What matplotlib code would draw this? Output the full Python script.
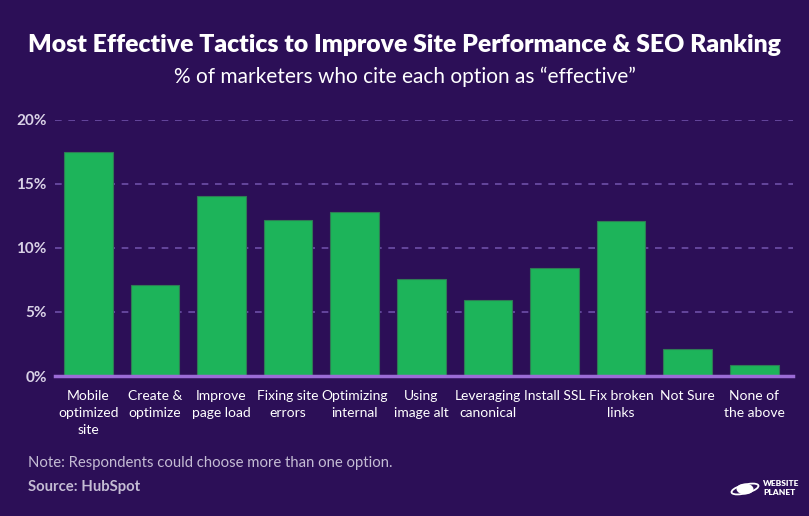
import matplotlib.pyplot as plt
from matplotlib.patches import Circle, Ellipse

plt.rcParams['font.family'] = ['Lato', 'DejaVu Sans']

categories = ['Mobile\noptimized\nsite', 'Create &\noptimize', 'Improve\npage load',
              'Fixing site\nerrors', 'Optimizing\ninternal', 'Using\nimage alt',
              'Leveraging\ncanonical', 'Install SSL', 'Fix broken\nlinks', 'Not Sure',
              'None of\nthe above']
values = [17.5, 7.1, 14.0, 12.2, 12.8, 7.6, 5.9, 8.4, 12.1, 2.1, 0.85]
yticks = [0, 5, 10, 15, 20]

bg = '#2c0f57'
green = '#1db45a'

fig = plt.figure(figsize=(8.09, 5.16), dpi=100)
fig.patch.set_facecolor(bg)

ax = fig.add_axes([55/809, 1-376/516, (793-55)/809, (376-119.5)/516])
ax.set_facecolor(bg)

x = list(range(len(categories)))
ax.bar(x, values, width=0.73, color=green, edgecolor='#2f7a55', linewidth=0.8, zorder=3)

ax.set_xlim(-0.5, 10.58)
ax.set_ylim(0, 20)
ax.set_yticks(yticks)
ax.set_yticklabels([f'{t}%' for t in yticks], fontsize=11, fontweight='bold', color='#d9d2e6')
ax.yaxis.grid(True, linestyle=(0, (4, 4)), color='#6d4fa8', linewidth=1.2, zorder=0)
ax.set_axisbelow(True)
ax.tick_params(axis='y', length=0, pad=6)
ax.tick_params(axis='x', length=0, pad=10)
ax.set_xticks(x)
ax.set_xticklabels(categories, fontsize=10, color='white', linespacing=1.5, va='top')

for s in ['top', 'right', 'left']:
    ax.spines[s].set_visible(False)
ax.spines['bottom'].set_color('#9b6cd6')
ax.spines['bottom'].set_linewidth(2.5)
ax.spines['bottom'].set_zorder(4)

fig.text(0.5, 1-45/516, 'Most Effective Tactics to Improve Site Performance & SEO Ranking',
         ha='center', va='center', fontsize=17.8, fontweight='heavy', color='white')
fig.text(0.5, 1-77/516, '% of marketers who cite each option as \u201ceffective\u201d',
         ha='center', va='center', fontsize=15, color='white')

fig.text(28/809, 1-463/516, 'Note: Respondents could choose more than one option.',
         ha='left', va='center', fontsize=10.7, color='#c4bcd4')
fig.text(28/809, 1-487/516, 'Source: HubSpot',
         ha='left', va='center', fontsize=10.7, fontweight='bold', color='#c4bcd4')

# logo
fig.text(763/809, 1-488/516, 'WEBSITE\nPLANET', ha='left', va='center', fontsize=6,
         fontweight='heavy', color='white', linespacing=1.3)
fig.patches.append(Circle((745/809, 1-489/516), 0.0105, transform=fig.transFigure,
                          facecolor='white', edgecolor='none'))
fig.patches.append(Ellipse((745/809, 1-489/516), 0.036, 0.016, angle=25, transform=fig.transFigure,
                           facecolor='none', edgecolor='white', linewidth=1.3))

fig.savefig('out.png', dpi=100, facecolor=bg)
